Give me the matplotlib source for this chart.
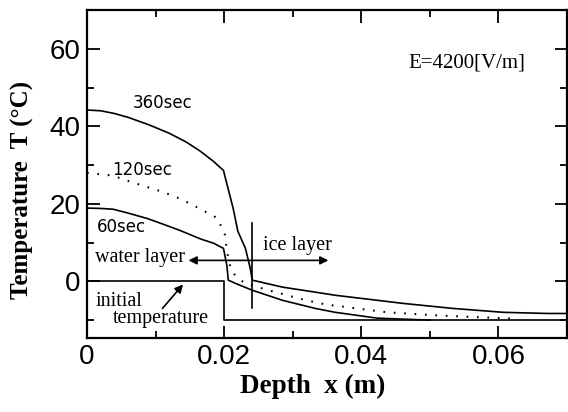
import matplotlib
matplotlib.use("Agg")
import matplotlib.pyplot as plt
from matplotlib.ticker import MultipleLocator

# ---- data ----
x360 = [0, 0.002, 0.004, 0.006, 0.009, 0.012, 0.0145, 0.0165, 0.0184, 0.0199, 0.0204,
        0.0213, 0.022, 0.0231, 0.0238, 0.0241, 0.0285, 0.0333, 0.0362, 0.0461, 0.0534,
        0.0607, 0.0672, 0.07]
y360 = [44.2, 44.0, 43.3, 42.3, 40.4, 38.2, 35.9, 33.6, 31.0, 28.6, 25.1,
        18.9, 12.9, 8.5, 3.4, 0.3, -1.5, -2.8, -3.6, -5.7, -7.0,
        -8.0, -8.3, -8.3]

x120 = [0, 0.0037, 0.0063, 0.011, 0.0136, 0.0166, 0.019, 0.0201, 0.0204, 0.0209, 0.0216,
        0.023, 0.0255, 0.0308, 0.034, 0.0358, 0.0438, 0.0511, 0.0574, 0.062]
y120 = [28.0, 27.3, 25.7, 23.1, 21.3, 18.6, 16.3, 12.1, 7.8, 3.6, 1.5,
        -0.5, -1.8, -4.4, -5.7, -6.2, -8.0, -8.8, -9.3, -9.6]

x60 = [0, 0.002, 0.0038, 0.006, 0.0088, 0.011, 0.0136, 0.0166, 0.0185, 0.0199, 0.0204,
       0.0206, 0.0216, 0.0241, 0.0285, 0.0333, 0.0362, 0.0423, 0.0467, 0.05]
y60 = [18.9, 18.8, 18.6, 17.6, 16.2, 14.8, 13.1, 10.9, 9.8, 8.5, 4.0,
       0.3, -0.5, -2.3, -4.9, -7.0, -8.0, -9.5, -9.8, -10.0]

x_init = [0, 0.02, 0.02, 0.07]
y_init = [0, 0, -10, -10]

interface_x = 0.0241
marker_y = [15.0, -7.0]
arrow_y = 5.4
arrow_left_x = 0.0148
arrow_right_x = 0.0352

curve_labels = ["360sec", "120sec", "60sec"]

# ---- figure ----
fig = plt.figure(figsize=(5.68, 4.12), dpi=100)
ax = fig.add_axes([0.1532, 0.1808, 0.8451, 0.7949])

lw = 1.2
ax.plot(x360, y360, color="black", lw=lw)
ax.plot(x120, y120, color="black", lw=1.5, linestyle=(0, (0.8, 4.2)))
ax.plot(x60, y60, color="black", lw=lw)
ax.plot(x_init, y_init, color="black", lw=lw)

# interface marker and arrows
ax.plot([interface_x, interface_x], marker_y, color="black", lw=lw)
ax.annotate("", xy=(arrow_left_x, arrow_y), xytext=(interface_x, arrow_y),
            arrowprops=dict(arrowstyle="-|>", color="black", lw=lw,
                            mutation_scale=12, shrinkA=0, shrinkB=0))
ax.annotate("", xy=(arrow_right_x, arrow_y), xytext=(interface_x, arrow_y),
            arrowprops=dict(arrowstyle="-|>", color="black", lw=lw,
                            mutation_scale=12, shrinkA=0, shrinkB=0))
ax.annotate("", xy=(0.014, -0.8), xytext=(0.011, -7.0),
            arrowprops=dict(arrowstyle="-|>", color="black", lw=lw,
                            mutation_scale=12, shrinkA=0, shrinkB=0))

lab_font = dict(family="DejaVu Sans", fontsize=12, va="center", ha="left")
ax.text(0.0066, 45.9, curve_labels[0], **lab_font)
ax.text(0.0036, 28.6, curve_labels[1], **lab_font)
ax.text(0.0015, 13.9, curve_labels[2], **lab_font)

serif = dict(family="Liberation Serif", fontsize=14.5, va="center", ha="left")
ax.text(0.0012, 6.2, "water layer", **serif)
ax.text(0.0256, 9.3, "ice layer", **serif)
ax.text(0.0012, -5.3, "initial", **serif)
ax.text(0.0038, -9.5, "temperature", **serif)
ax.text(0.0469, 56.4, "E=4200[V/m]", family="Liberation Serif", fontsize=15,
        va="center", ha="left")

ax.set_xlim(0, 0.07)
ax.set_ylim(-14.5, 70)
ax.xaxis.set_major_locator(MultipleLocator(0.02))
ax.xaxis.set_minor_locator(MultipleLocator(0.01))
ax.yaxis.set_major_locator(MultipleLocator(20))
ax.yaxis.set_minor_locator(MultipleLocator(10))
ax.xaxis.set_major_formatter(plt.FuncFormatter(lambda v, p: "0" if abs(v) < 1e-9 else f"{v:.2f}"))
ax.yaxis.set_major_formatter(plt.FuncFormatter(lambda v, p: f"{v:.0f}"))
ax.tick_params(which="both", direction="in", top=True, right=True, width=1.3)
ax.tick_params(which="major", length=9, labelsize=20, pad=5)
ax.tick_params(which="minor", length=5)
for t in ax.get_xticklabels() + ax.get_yticklabels():
    t.set_family("Liberation Sans")
for s in ax.spines.values():
    s.set_linewidth(1.6)

fig.text(0.55, 0.062, "Depth  x (m)", family="Liberation Serif", fontweight="bold",
         fontsize=19.5, ha="center", va="center")
fig.text(0.04, 0.54, "Temperature  T (°C)", family="Liberation Serif", fontweight="bold",
         fontsize=18, ha="center", va="center", rotation=90)

fig.savefig("out.png", dpi=100)
